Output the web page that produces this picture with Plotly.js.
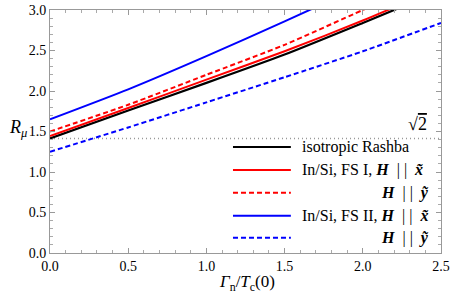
<!DOCTYPE html>
<html>
<head>
<meta charset="utf-8">
<script src="https://cdn.plot.ly/plotly-3.0.1.min.js"></script>
<style>html,body{margin:0;padding:0;background:#fff;}#chart{width:459px;height:299px;}</style>
</head>
<body>
<div id="chart"></div>
<script>
// Γn/Tc(0) sample points
const gammaX = [0, 0.5, 1.0, 1.5, 2.0, 2.5];
// R_mu values
const isoRashba   = [1.414, 1.76, 2.10, 2.45, 2.84, 3.24];
const fs1_Hx      = [1.444, 1.79, 2.14, 2.49, 2.87, 3.28];
const fs1_Hy      = [1.50, 1.83, 2.20, 2.57, 3.00, 3.42];
const fs2_Hx      = [1.65, 2.02, 2.43, 2.86, 3.30, 3.75];
const fs2_Hy      = [1.25, 1.55, 1.86, 2.17, 2.49, 2.84];
const sqrt2Level  = Math.SQRT2;
const S = '\u00A0';
const seriesNames = [
  'isotropic Rashba',
  'In/Si, FS I, <b><i>H</i></b>' + S + S + '|' + S + '|' + S + S + '<b><i>x\u0303</i></b>',
  '<b><i>H</i></b>' + S + S + '|' + S + '|' + S + S + '<b><i>\u1EF9</i></b>',
  'In/Si, FS II, <b><i>H</i></b>' + S + S + '|' + S + '|' + S + S + '<b><i>x\u0303</i></b>',
  '<b><i>H</i></b>' + S + S + '|' + S + '|' + S + S + '<b><i>\u1EF9</i></b>'
];
const xTicks = [0, 0.5, 1.0, 1.5, 2.0, 2.5];
const yTicks = [0, 0.5, 1.0, 1.5, 2.0, 2.5, 3.0];

const seriesY = [isoRashba, fs1_Hx, fs1_Hy, fs2_Hx, fs2_Hy];
const colors = ['#000000', '#ff0000', '#ff0000', '#0000ff', '#0000ff'];
const dashes = ['solid', 'solid', '5px,3px', 'solid', '5px,3px'];
const widths = [2.2, 2, 2, 2, 2];

const traces = [{
  x: [0, 2.5], y: [sqrt2Level, sqrt2Level], mode: 'lines',
  line: {color: '#999999', width: 1.5, dash: '1px,3px'}, showlegend: false, hoverinfo: 'skip'
}];
seriesY.forEach((ys, i) => {
  traces.push({
    x: gammaX, y: ys, mode: 'lines', name: seriesNames[i],
    line: {color: colors[i], width: widths[i], dash: dashes[i], shape: 'spline', smoothing: 0.6},
    showlegend: false
  });
});

// custom legend
const font = 'Liberation Serif';
const rowsY = [0.436, 0.342, 0.248, 0.153, 0.063];
const align = ['left', 'left', 'right', 'left', 'right'];
const shapes = [];
const annotations = [];
rowsY.forEach((ry, i) => {
  shapes.push({type: 'line', xref: 'paper', yref: 'paper', x0: 0.468, x1: 0.616, y0: ry, y1: ry,
    line: {color: colors[i], width: 2, dash: dashes[i] === 'solid' ? 'solid' : '5px,3px'}});
  annotations.push({xref: 'paper', yref: 'paper', x: align[i] === 'left' ? 0.639 : 0.975, y: ry,
    xanchor: align[i], yanchor: 'middle', text: seriesNames[i], showarrow: false,
    font: {family: font, size: 16, color: '#000'}});
});
annotations.push({xref: 'paper', yref: 'paper', x: 0.941, y: 0.531, xanchor: 'center', yanchor: 'middle',
  text: '\u221A<span style="text-decoration:overline">2</span>', showarrow: false,
  font: {family: font, size: 18, color: '#000'}});
annotations.push({xref: 'paper', yref: 'paper', x: -0.082, y: 0.514, xanchor: 'center', yanchor: 'middle',
  text: '<i>R</i><sub><i>\u03BC</i></sub>', showarrow: false, font: {family: font, size: 18, color: '#000'}});
annotations.push({xref: 'paper', yref: 'paper', x: 0.504, y: -0.125, xanchor: 'center', yanchor: 'middle',
  text: '<i>\u0393</i><sub>n</sub>/<i>T</i><sub>c</sub>(0)', showarrow: false, font: {family: font, size: 17, color: '#000'}});

function axis(range, vals) {
  return {
    range: range, tickmode: 'array', tickvals: vals, ticktext: vals.map(v => v.toFixed(1)),
    showgrid: false, zeroline: false, showline: true, linecolor: '#999999', linewidth: 1,
    mirror: 'ticks', ticks: 'inside', ticklen: 5, tickcolor: '#999999', tickwidth: 1,
    tickfont: {family: font, size: 14, color: '#000000'},
    minor: {ticks: 'inside', ticklen: 3, tickcolor: '#aaaaaa', dtick: 0.1, showgrid: false}
  };
}

const layout = {
  width: 459, height: 299,
  margin: {l: 50, r: 18, t: 10, b: 46},
  paper_bgcolor: '#fff', plot_bgcolor: '#fff',
  font: {family: font, color: '#000'},
  xaxis: axis([0, 2.5], xTicks),
  yaxis: axis([0, 3], yTicks),
  showlegend: false, shapes: shapes, annotations: annotations
};

Plotly.newPlot('chart', traces, layout, {staticPlot: true, displayModeBar: false});
</script>
</body>
</html>
